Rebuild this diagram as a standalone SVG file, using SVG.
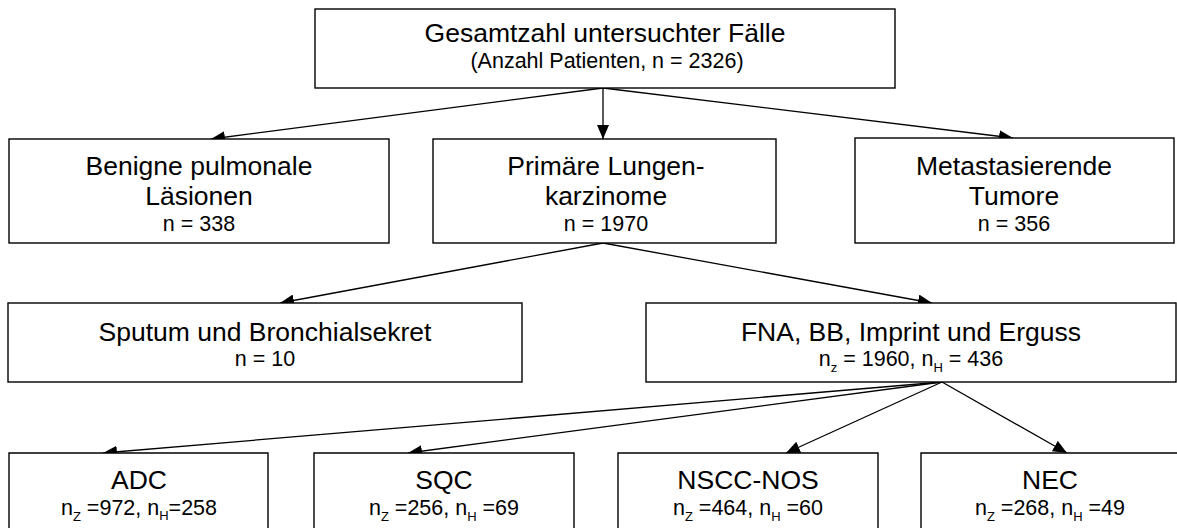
<svg xmlns="http://www.w3.org/2000/svg" width="1177" height="528" viewBox="0 0 1177 528">
<defs>
<marker id="ah" viewBox="0 0 14 12" refX="14" refY="6" markerWidth="14" markerHeight="12" markerUnits="userSpaceOnUse" orient="auto">
<path d="M0,0 L14,6 L0,12 z" fill="#000"/>
</marker>
<style>
.box{fill:#fff;stroke:#000;stroke-width:1.4}
.t{font-family:"Liberation Sans",Arial,sans-serif;fill:#000;text-anchor:middle}
.big{font-size:26.5px}
.sm{font-size:21.5px}
.sub{font-size:13px}
.c{stroke:#000;stroke-width:1.3;fill:none;marker-end:url(#ah)}
</style>
</defs>
<rect width="1177" height="528" fill="#fff"/>
<g id="connectors">
<line class="c" x1="603" y1="88" x2="603" y2="139"/>
<line class="c" x1="603" y1="88" x2="211" y2="139"/>
<line class="c" x1="603" y1="88" x2="1013" y2="138"/>
<line class="c" x1="603" y1="243" x2="280" y2="303"/>
<line class="c" x1="603" y1="243" x2="932" y2="303"/>
<line class="c" x1="942" y1="382" x2="103" y2="453"/>
<line class="c" x1="942" y1="382" x2="408" y2="453"/>
<line class="c" x1="942" y1="382" x2="786" y2="453"/>
<line class="c" x1="942" y1="382" x2="1067" y2="453"/>
</g>
<g id="n_total">
<rect class="box" x="315" y="9" width="580" height="79"/>
<text class="t big" x="605" y="42">Gesamtzahl untersuchter Fälle</text>
<text class="t sm" x="607" y="68">(Anzahl Patienten, n =  2326)</text>
</g>
<g id="n_benign">
<rect class="box" x="9" y="139" width="380" height="104"/>
<text class="t big" x="199" y="175">Benigne pulmonale</text>
<text class="t big" x="199" y="205">Läsionen</text>
<text class="t sm" x="199" y="231">n = 338</text>
</g>
<g id="n_primary">
<rect class="box" x="433" y="139" width="343" height="104"/>
<text class="t big" x="606" y="175">Primäre Lungen-</text>
<text class="t big" x="606" y="205">karzinome</text>
<text class="t sm" x="606" y="231">n = 1970</text>
</g>
<g id="n_meta">
<rect class="box" x="855" y="138" width="319" height="105"/>
<text class="t big" x="1014" y="175">Metastasierende</text>
<text class="t big" x="1014" y="205">Tumore</text>
<text class="t sm" x="1014" y="231">n = 356</text>
</g>
<g id="n_sputum">
<rect class="box" x="8" y="303" width="514" height="79"/>
<text class="t big" x="265" y="341">Sputum und Bronchialsekret</text>
<text class="t sm" x="265" y="366">n = 10</text>
</g>
<g id="n_fna">
<rect class="box" x="646" y="303" width="530" height="79"/>
<text class="t big" x="911" y="341">FNA, BB, Imprint und Erguss</text>
<text class="t sm" x="911" y="366">n<tspan class="sub" dy="6">z</tspan><tspan dy="-6"> = 1960, n</tspan><tspan class="sub" dy="6">H</tspan><tspan dy="-6"> = 436</tspan></text>
</g>
<g id="n_adc">
<path class="box" d="M9,529 V453 H268 V529"/>
<text class="t big" x="139" y="489">ADC</text>
<text class="t sm" x="139" y="515">n<tspan class="sub" dy="6">Z</tspan><tspan dy="-6"> =972, n</tspan><tspan class="sub" dy="5">H</tspan><tspan dy="-5">=258</tspan></text>
</g>
<g id="n_sqc">
<path class="box" d="M314,529 V453 H574 V529"/>
<text class="t big" x="444" y="489">SQC</text>
<text class="t sm" x="444" y="515">n<tspan class="sub" dy="6">Z</tspan><tspan dy="-6"> =256, n</tspan><tspan class="sub" dy="6">H</tspan><tspan dy="-6"> =69</tspan></text>
</g>
<g id="n_nscc">
<path class="box" d="M618,529 V453 H878 V529"/>
<text class="t big" x="748" y="489">NSCC-NOS</text>
<text class="t sm" x="748" y="515">n<tspan class="sub" dy="6">Z</tspan><tspan dy="-6"> =464, n</tspan><tspan class="sub" dy="6">H</tspan><tspan dy="-6"> =60</tspan></text>
</g>
<g id="n_nec">
<path class="box" d="M921,529 V453 H1180 V529"/>
<text class="t big" x="1050" y="489">NEC</text>
<text class="t sm" x="1050" y="515">n<tspan class="sub" dy="6">Z</tspan><tspan dy="-6"> =268, n</tspan><tspan class="sub" dy="6">H</tspan><tspan dy="-6"> =49</tspan></text>
</g>
</svg>
